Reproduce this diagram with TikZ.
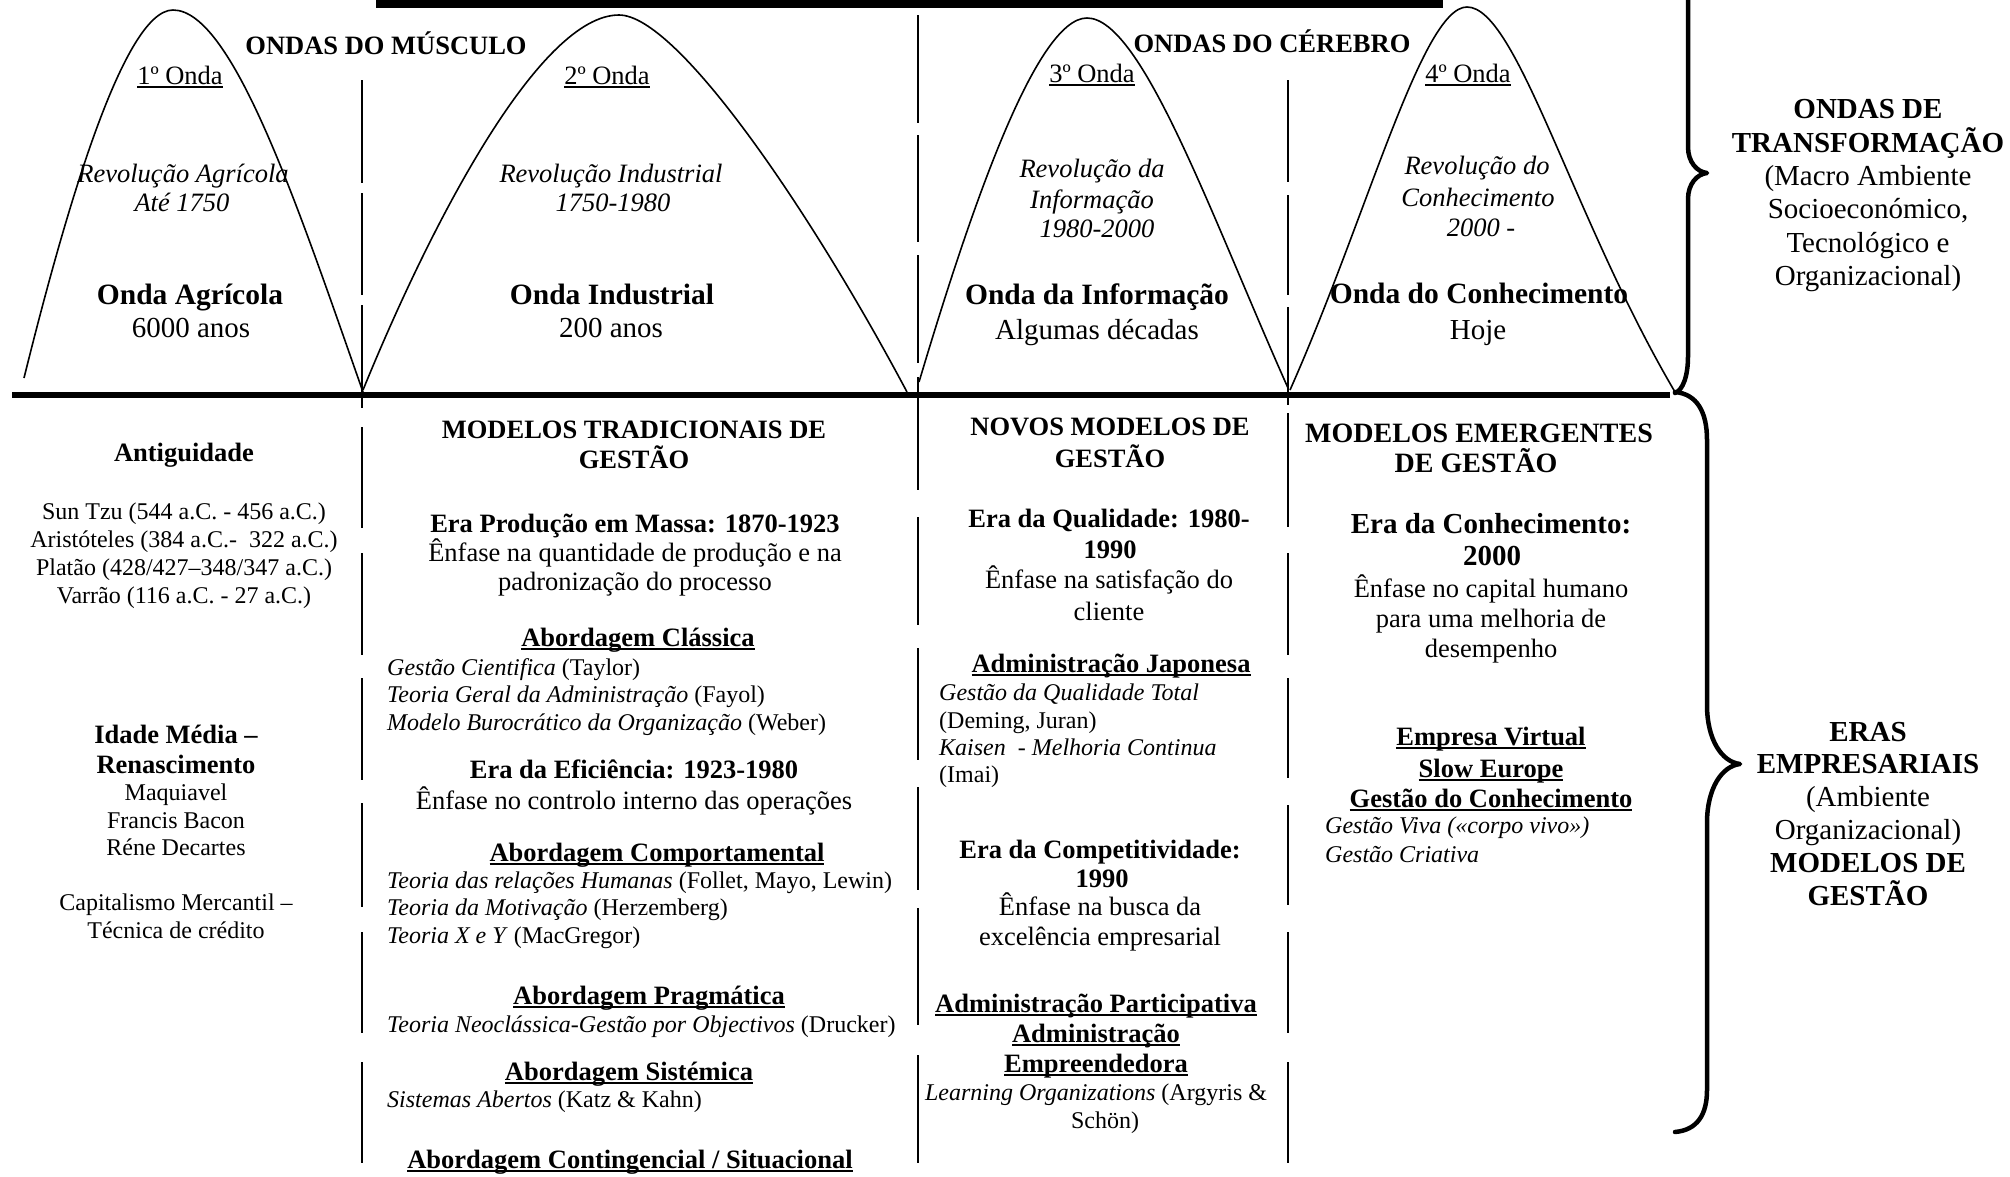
\documentclass[tikz,border=0pt]{standalone}
\usepackage{fontspec}
\setmainfont{Liberation Serif}
\newsavebox\ulsave
% underline drawn at a fixed depth below the baseline, crossing descenders
\newcommand\ulin[1]{\sbox\ulsave{#1}\rlap{\rule[-0.15em]{\wd\ulsave}{0.08em}}\usebox\ulsave}
\tikzset{
  txt/.style={inner sep=0pt, anchor=base},
  lft/.style={inner sep=0pt, anchor=base west},
  r24/.style={font=\fontsize{24}{28}\selectfont},
  r265/.style={font=\fontsize{26.5}{30}\selectfont},
  i265/.style={font=\fontsize{26.5}{30}\selectfont\itshape},
  b265/.style={font=\fontsize{26.5}{30}\selectfont\bfseries},
  b28/.style={font=\fontsize{28}{32}\selectfont\bfseries},
  r29/.style={font=\fontsize{29}{33}\selectfont},
  b29/.style={font=\fontsize{29}{33}\selectfont\bfseries},
  b295/.style={font=\fontsize{29.5}{33}\selectfont\bfseries},
  wave/.style={line width=1.6pt},
  sep/.style={line width=2pt},
  brace/.style={line width=4.5pt, line cap=round, line join=round},
}
\begin{document}
\begin{tikzpicture}[x=1pt, y=-1pt]
\useasboundingbox (0,0) rectangle (2010,1176);
\fill[white] (0,0) rectangle (2010,1176);
\clip (0,0) rectangle (2010,1176);

% heavy rules
\fill (376,0) rectangle (1443,8);
\fill (12,392) rectangle (1670,398);

% column separators (long dashes)
\foreach \a/\b in {80/183,193/295,305/408,427/528,553/655,678/780,803/907,932/1033,1062/1163}
  \draw[sep] (362,\a) -- (362,\b);
\foreach \a/\b in {15/123,135/242,255/363,377/490,517/625,648/760,787/890,908/1025,1055/1163}
  \draw[sep] (918,\a) -- (918,\b);
\foreach \a/\b in {80/182,195/295,307/405,413/527,553/655,678/778,805/905,932/1033,1062/1163}
  \draw[sep] (1288,\a) -- (1288,\b);

% the four waves
\draw[wave] (24,378) .. controls (62,225) and (122,10) .. (173,10)
            .. controls (233,10) and (299,210) .. (363,392);
\draw[wave] (363,390) .. controls (434.5,215) and (541,15) .. (619,15)
            .. controls (678,15) and (813,215) .. (907,392);
\draw[wave] (919,382) .. controls (968,218) and (1035,18) .. (1087,18)
            .. controls (1142,18) and (1212,218) .. (1288,388);
\draw[wave] (1290,390) .. controls (1367,217) and (1422,7) .. (1467,7)
            .. controls (1517,7) and (1572,217) .. (1675,392);

% braces
\draw[brace] (1675,-47) .. controls (1683,-44) and (1688,-30) .. (1688,-10) -- (1688,147)
  .. controls (1688,162) and (1697,172) .. (1707,173)
  .. controls (1697,174) and (1688,184) .. (1688,199) -- (1688,356)
  .. controls (1688,376) and (1683,390) .. (1675,393);
\draw[brace] (1675,392) .. controls (1697,394) and (1707,412) .. (1707,440) -- (1707,705)
  .. controls (1707,740) and (1722,762) .. (1740,764)
  .. controls (1722,766) and (1707,788) .. (1707,823) -- (1707,1090)
  .. controls (1707,1115) and (1697,1130) .. (1675,1132);

% wave titles
\node[txt,b265] (musculo) at (386,54) {ONDAS DO MÚSCULO};
\node[txt,b265] (cerebro) at (1272,52) {ONDAS DO CÉREBRO};
\node[txt,r265] (onda1) at (180,84) {\ulin{1º Onda}};
\node[txt,r265] (onda2) at (607,84) {\ulin{2º Onda}};
\node[txt,r265] (onda3) at (1092,82) {\ulin{3º Onda}};
\node[txt,r265] (onda4) at (1468,82) {\ulin{4º Onda}};

\node[txt,i265] (rev1a) at (183,182) {Revolução Agrícola};
\node[txt,i265] (rev1b) at (182,211) {Até 1750};
\node[txt,i265] (rev2a) at (611,182) {Revolução Industrial};
\node[txt,i265] (rev2b) at (613,211) {1750-1980};
\node[txt,i265] (rev3a) at (1092,177) {Revolução da};
\node[txt,i265] (rev3b) at (1092,208) {Informação};
\node[txt,i265] (rev3c) at (1097,237) {1980-2000};
\node[txt,i265] (rev4a) at (1477,174) {Revolução do};
\node[txt,i265] (rev4b) at (1478,206) {Conhecimento};
\node[txt,i265] (rev4c) at (1481,236) {2000 -};

\node[txt,b295] (wname1) at (190,304) {Onda Agrícola};
\node[txt,b295] (wname2) at (612,304) {Onda Industrial};
\node[txt,b295] (wname3) at (1097,304) {Onda da Informação};
\node[txt,b295] (wname4) at (1479,303) {Onda do Conhecimento};
\node[txt,r29] (wdur1) at (191,337) {6000 anos};
\node[txt,r29] (wdur2) at (611,337) {200 anos};
\node[txt,r29] (wdur3) at (1097,339) {Algumas décadas};
\node[txt,r29] (wdur4) at (1478,339) {Hoje};

% right-hand labels
\node[txt,b29] (ondasde) at (1868,118) {ONDAS DE};
\node[txt,b29] (transf) at (1868,152) {TRANSFORMAÇÃO};
\node[txt,r29] (macro1) at (1868,185) {(Macro Ambiente};
\node[txt,r29] (macro2) at (1868,218) {Socioeconómico,};
\node[txt,r29] (macro3) at (1868,252) {Tecnológico e};
\node[txt,r29] (macro4) at (1868,285) {Organizacional)};

\node[txt,b29] (eras1) at (1868,741) {ERAS};
\node[txt,b29] (eras2) at (1868,773) {EMPRESARIAIS};
\node[txt,r29] (eras3) at (1868,806) {(Ambiente};
\node[txt,r29] (eras4) at (1868,839) {Organizacional)};
\node[txt,b29] (eras5) at (1868,872) {MODELOS DE};
\node[txt,b29] (eras6) at (1868,905) {GESTÃO};

% column 1: antiquity to mercantilism
\node[txt,b265] (antig) at (184,461) {Antiguidade};
\node[txt,r24] (ant1) at (184,519) {Sun Tzu (544 a.C. - 456 a.C.)};
\node[txt,r24] (ant2) at (184,547) {Aristóteles (384 a.C.-\ \ 322 a.C.)};
\node[txt,r24] (ant3) at (184,575) {Platão (428/427–348/347 a.C.)};
\node[txt,r24] (ant4) at (184,603) {Varrão (116 a.C. - 27 a.C.)};
\node[txt,b265] (media1) at (176,743) {Idade Média –};
\node[txt,b265] (media2) at (176,773) {Renascimento};
\node[txt,r24] (med1) at (176,800) {Maquiavel};
\node[txt,r24] (med2) at (176,828) {Francis Bacon};
\node[txt,r24] (med3) at (176,855) {Réne Decartes};
\node[txt,r24] (merc1) at (176,910) {Capitalismo Mercantil –};
\node[txt,r24] (merc2) at (176,938) {Técnica de crédito};

% column 2: traditional models
\node[txt,b265] (trad1) at (634,438) {MODELOS TRADICIONAIS DE};
\node[txt,b265] (trad2) at (634,468) {GESTÃO};
\node[txt,b265] (massa) at (635,532) {Era Produção em Massa: 1870-1923};
\node[txt,r265] (massa1) at (635,561) {Ênfase na quantidade de produção e na};
\node[txt,r265] (massa2) at (635,590) {padronização do processo};
\node[txt,b265] (classica) at (638,646) {\ulin{Abordagem Clássica}};
\node[lft,r24] (cl1) at (387,675) {\textit{Gestão Cientifica} (Taylor)};
\node[lft,r24] (cl2) at (387,702) {\textit{Teoria Geral da Administração} (Fayol)};
\node[lft,r24] (cl3) at (387,730) {\textit{Modelo Burocrático da Organização} (Weber)};
\node[txt,b265] (efic) at (634,778) {Era da Eficiência: 1923-1980};
\node[txt,r265] (efic1) at (634,809) {Ênfase no controlo interno das operações};
\node[txt,b265] (comport) at (657,861) {\ulin{Abordagem Comportamental}};
\node[lft,r24] (co1) at (387,888) {\textit{Teoria das relações Humanas} (Follet, Mayo, Lewin)};
\node[lft,r24] (co2) at (387,915) {\textit{Teoria da Motivação} (Herzemberg)};
\node[lft,r24] (co3) at (387,943) {\textit{Teoria X e Y} (MacGregor)};
\node[txt,b265] (pragm) at (649,1004) {\ulin{Abordagem Pragmática}};
\node[lft,r24] (pr1) at (387,1032) {\textit{Teoria Neoclássica-Gestão por Objectivos} (Drucker)};
\node[txt,b265] (sistem) at (629,1080) {\ulin{Abordagem Sistémica}};
\node[lft,r24] (si1) at (387,1107) {\textit{Sistemas Abertos} (Katz \& Kahn)};
\node[txt,b265] (conting) at (630,1168) {\ulin{Abordagem Contingencial / Situacional}};

% column 3: new models
\node[txt,b265] (novos1) at (1110,435) {NOVOS MODELOS DE};
\node[txt,b265] (novos2) at (1110,467) {GESTÃO};
\node[txt,b265] (qual1) at (1109,527) {Era da Qualidade: 1980-};
\node[txt,b265] (qual2) at (1110,558) {1990};
\node[txt,r265] (qual3) at (1109,588) {Ênfase na satisfação do};
\node[txt,r265] (qual4) at (1109,620) {cliente};
\node[txt,b265] (japon) at (1111,672) {\ulin{Administração Japonesa}};
\node[lft,r24] (ja1) at (939,700) {\textit{Gestão da Qualidade Total}};
\node[lft,r24] (ja2) at (939,728) {(Deming, Juran)};
\node[lft,r24] (ja3) at (939,755) {\textit{Kaisen\ \ - Melhoria Continua}};
\node[lft,r24] (ja4) at (939,782) {(Imai)};
\node[txt,b265] (comp1) at (1100,858) {Era da Competitividade:};
\node[txt,b265] (comp2) at (1102,887) {1990};
\node[txt,r265] (comp3) at (1100,915) {Ênfase na busca da};
\node[txt,r265] (comp4) at (1100,945) {excelência empresarial};
\node[txt,b265] (partic) at (1096,1012) {\ulin{Administração Participativa}};
\node[txt,b265] (empr1) at (1096,1042) {\ulin{Administração}};
\node[txt,b265] (empr2) at (1096,1072) {\ulin{Empreendedora}};
\node[txt,r24] (learn1) at (1096,1100) {\textit{Learning Organizations} (Argyris \&};
\node[txt,r24] (learn2) at (1105,1128) {Schön)};

% column 4: emerging models
\node[txt,b28] (emerg1) at (1479,442) {MODELOS EMERGENTES};
\node[txt,b28] (emerg2) at (1476,472) {DE GESTÃO};
\node[txt,b29] (conh1) at (1491,533) {Era da Conhecimento:};
\node[txt,b29] (conh2) at (1492,565) {2000};
\node[txt,r265] (conh3) at (1491,597) {Ênfase no capital humano};
\node[txt,r265] (conh4) at (1491,627) {para uma melhoria de};
\node[txt,r265] (conh5) at (1491,657) {desempenho};
\node[txt,b265] (virt) at (1491,745) {\ulin{Empresa Virtual}};
\node[txt,b265] (slow) at (1491,777) {\ulin{Slow Europe}};
\node[txt,b265] (gconh) at (1491,807) {\ulin{Gestão do Conhecimento}};
\node[lft,r24] (gviva) at (1325,833) {\textit{Gestão Viva («corpo vivo»)}};
\node[lft,r24] (gcria) at (1325,862) {\textit{Gestão Criativa}};
\end{tikzpicture}
\end{document}
